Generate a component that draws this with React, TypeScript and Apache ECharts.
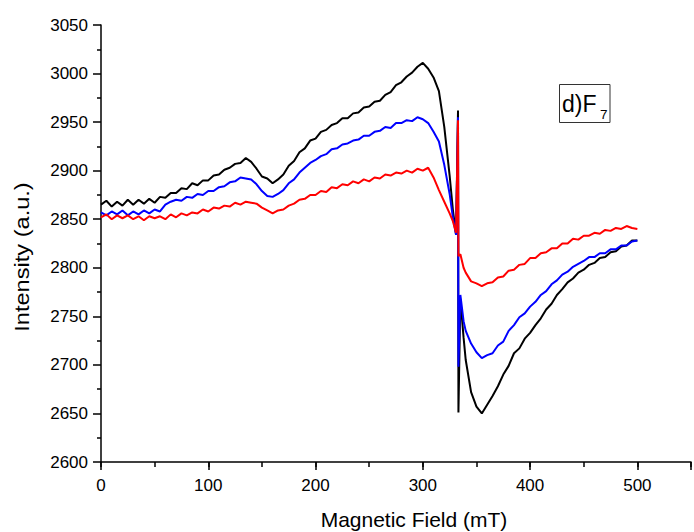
import React, { useEffect, useRef } from "react";
import * as echarts from "echarts";

// Magnetic field sample positions (mT)
const field = [
  0, 5, 10, 15, 20, 25, 30, 35, 40, 45,
  50, 55, 60, 65, 70, 75, 80, 85, 90, 95,
  100, 105, 110, 115, 120, 125, 130, 135, 140, 145,
  150, 155, 160, 165, 170, 175, 180, 185, 190, 195,
  200, 205, 210, 215, 220, 225, 230, 235, 240, 245,
  250, 255, 260, 265, 270, 275, 280, 285, 290, 295,
  300, 305, 310, 315, 320, 325,
  328, 331, 332.8, 333.2, 335, 338,
  340, 345, 350, 355, 360, 365, 370, 375, 380, 385,
  390, 395, 400, 405, 410, 415, 420, 425, 430, 435,
  440, 445, 450, 455, 460, 465, 470, 475, 480, 485,
  490, 495, 500,
];

const blackSeries = [
  2865, 2869, 2863, 2868, 2864, 2870, 2865, 2870, 2866, 2871,
  2867, 2873, 2872, 2877, 2877, 2882, 2881, 2887, 2885, 2890,
  2890, 2895, 2896, 2901, 2903, 2907, 2908, 2913, 2909, 2902,
  2894, 2892, 2887, 2891, 2896, 2905, 2910, 2919, 2923, 2931,
  2933, 2940, 2942, 2947, 2949, 2954, 2954, 2959, 2960, 2965,
  2966, 2971, 2972, 2978, 2981, 2988, 2991, 2997, 3001, 3007,
  3011, 3005, 2996, 2982, 2945, 2895,
  2860, 2834, 2962, 2651, 2768, 2728,
  2705, 2672, 2657, 2650, 2659, 2668, 2678, 2690, 2699, 2712,
  2717, 2727, 2733, 2741, 2748, 2757, 2763, 2772, 2778, 2785,
  2789, 2795, 2798, 2803, 2805, 2810, 2811, 2816, 2817, 2822,
  2823, 2828, 2828,
];

const blueSeries = [
  2857, 2854, 2858, 2855, 2859, 2854, 2858, 2855, 2859, 2856,
  2860, 2858, 2865, 2868, 2870, 2869, 2873, 2872, 2876, 2875,
  2879, 2879, 2883, 2884, 2888, 2889, 2893, 2892, 2891, 2886,
  2879, 2874, 2873, 2876, 2880, 2887, 2891, 2898, 2903, 2908,
  2911, 2915, 2917, 2922, 2923, 2927, 2928, 2931, 2932, 2936,
  2936, 2940, 2941, 2945, 2944, 2949, 2949, 2952, 2951, 2955,
  2953, 2949, 2940, 2930, 2906, 2876,
  2852, 2834, 2955, 2698, 2772, 2745,
  2735, 2722, 2713, 2707, 2710, 2712, 2720, 2724, 2735, 2741,
  2749, 2753, 2760, 2765, 2772, 2776, 2783, 2787, 2793, 2796,
  2801, 2804, 2807, 2811, 2811, 2815, 2815, 2819, 2819, 2823,
  2823, 2827, 2828,
];

const redSeries = [
  2852, 2855, 2850, 2854, 2851, 2854, 2850, 2853, 2849, 2853,
  2851, 2853, 2850, 2855, 2852, 2856, 2854, 2857, 2856, 2860,
  2858, 2862, 2861, 2864, 2863, 2867, 2865, 2868, 2867, 2866,
  2862, 2859, 2856, 2859, 2860, 2864, 2866, 2870, 2871, 2875,
  2875, 2879, 2878, 2883, 2882, 2886, 2885, 2889, 2887, 2891,
  2889, 2893, 2892, 2896, 2895, 2898, 2897, 2900, 2898, 2902,
  2900, 2903, 2893, 2880, 2868, 2856,
  2848, 2836, 2952, 2812, 2814, 2800,
  2795, 2786, 2784, 2781, 2784, 2785, 2790, 2791, 2797, 2798,
  2803, 2804, 2810, 2810, 2815, 2816, 2820, 2820, 2825, 2825,
  2830, 2829, 2833, 2833, 2836, 2835, 2839, 2838, 2841, 2840,
  2843, 2841, 2840,
];

const seriesNames = ["black", "blue", "red"];
const seriesColors = ["#000000", "#0000ff", "#ff0000"];
const xTitle = "Magnetic Field (mT)";
const yTitle = "Intensity (a.u.)";
const sampleLabel = "d)F";
const sampleSub = "7";

const FONT = "'Liberation Sans', Arial, sans-serif";

export default function App() {
  const ref = useRef<HTMLDivElement>(null);
  useEffect(() => {
    if (!ref.current) return;
    const chart = echarts.init(ref.current, undefined, { renderer: "svg" });
    const all = [blackSeries, blueSeries, redSeries];
    const axisCommon = {
      axisLine: { show: true, lineStyle: { color: "#000", width: 1.5 } },
      splitLine: { show: false },
    };
    chart.setOption({
      animation: false,
      backgroundColor: "#ffffff",
      grid: { left: 101, right: 0, top: 25, bottom: 70 },
      xAxis: [
        {
          type: "value",
          min: 0,
          max: 550,
          interval: 100,
          position: "bottom",
          ...axisCommon,
          axisTick: { show: true, length: 8, lineStyle: { color: "#000", width: 1.5 } },
          axisLabel: {
            color: "#000",
            fontSize: 17,
            fontFamily: FONT,
            margin: 15,
            formatter: (v: number) => (v > 500 ? "" : String(v)),
          },
        },
        {
          type: "value",
          min: 0,
          max: 550,
          interval: 50,
          position: "bottom",
          axisLine: { show: false },
          splitLine: { show: false },
          axisTick: { show: true, length: 5, lineStyle: { color: "#000", width: 1.5 } },
          axisLabel: { show: false },
        },
      ],
      yAxis: {
        type: "value",
        min: 2600,
        max: 3050,
        interval: 50,
        ...axisCommon,
        axisTick: { show: true, length: 8, lineStyle: { color: "#000", width: 1.5 } },
        minorTick: { show: true, splitNumber: 2, length: 4, lineStyle: { color: "#000", width: 1.5 } },
        axisLabel: {
          color: "#000",
          fontSize: 17,
          fontFamily: FONT,
          margin: 13,
          formatter: (v: number) => String(v),
        },
      },
      series: all.map((vals, i) => ({
        name: seriesNames[i],
        type: "line",
        xAxisIndex: 0,
        showSymbol: false,
        symbol: "none",
        data: field.map((x, j) => [x, vals[j]]),
        lineStyle: { color: seriesColors[i], width: 2 },
        itemStyle: { color: seriesColors[i] },
        z: 2 + i,
      })),
      graphic: [
        {
          type: "text",
          x: 22,
          y: 257,
          rotation: Math.PI / 2,
          scaleX: 1.18,
          style: {
            text: yTitle,
            fontSize: 20,
            fontFamily: FONT,
            fill: "#000",
            align: "center",
            verticalAlign: "middle",
          },
        },
        {
          type: "text",
          x: 414,
          y: 519,
          style: {
            text: xTitle,
            fontSize: 21,
            fontFamily: FONT,
            fill: "#000",
            align: "center",
            verticalAlign: "middle",
          },
        },
        {
          type: "rect",
          shape: { x: 559.5, y: 84.5, width: 50.5, height: 38 },
          style: { fill: "none", stroke: "#333", lineWidth: 1 },
        },
        {
          type: "text",
          x: 562,
          y: 104.3,
          style: {
            text: sampleLabel,
            fontSize: 23,
            fontFamily: FONT,
            fill: "#000",
            align: "left",
            verticalAlign: "middle",
          },
        },
        {
          type: "text",
          x: 600,
          y: 114.3,
          style: {
            text: sampleSub,
            fontSize: 13.5,
            fontFamily: FONT,
            fill: "#000",
            align: "left",
            verticalAlign: "middle",
          },
        },
      ],
    });
    return () => chart.dispose();
  }, []);
  return (
    <div
      ref={ref}
      style={{ position: "absolute", left: 0, top: 0, width: 694, height: 532 }}
    />
  );
}
